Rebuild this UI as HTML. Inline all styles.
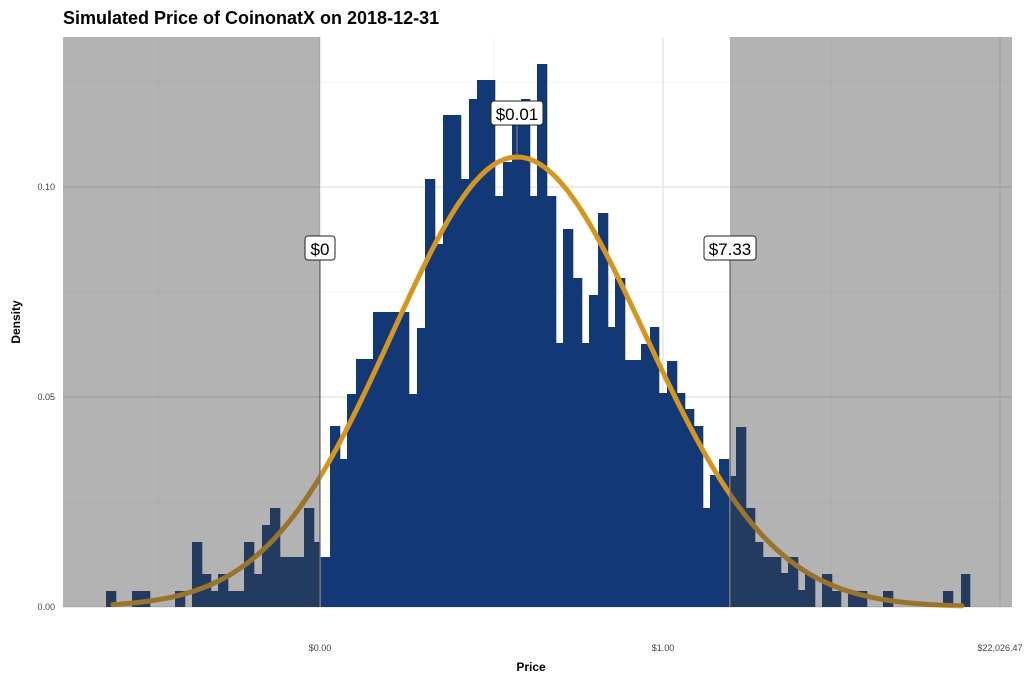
<!DOCTYPE html>
<html><head><meta charset="utf-8"><style>
body{margin:0;background:#fff;font-family:"Liberation Sans",sans-serif}
</style></head><body>
<svg id="s" width="1024" height="683" xmlns="http://www.w3.org/2000/svg" font-family="Liberation Sans, sans-serif">
<rect width="1024" height="683" fill="#fff"/>
<g stroke="#ebebeb" stroke-width="0.6">
<line x1="63" x2="1012" y1="82" y2="82"/><line x1="63" x2="1012" y1="292" y2="292"/><line x1="63" x2="1012" y1="502" y2="502"/>
<line x1="158" x2="158" y1="37" y2="607"/><line x1="494" x2="494" y1="37" y2="607"/><line x1="831" x2="831" y1="37" y2="607"/>
</g>
<g stroke="#e0e0e0" stroke-width="1.2">
<line x1="63" x2="1012" y1="187" y2="187"/><line x1="63" x2="1012" y1="397" y2="397"/><line x1="63" x2="1012" y1="607" y2="607"/>
<line x1="320" x2="320" y1="37" y2="607"/><line x1="663" x2="663" y1="37" y2="607"/><line x1="1000" x2="1000" y1="37" y2="607"/>
</g>
<g id="bars" fill="#123876"></g>
<path id="curve" fill="none" stroke="#d4961e" stroke-width="5" stroke-linecap="round"/>
<line x1="320" x2="320" y1="260" y2="607" stroke="#888" stroke-width="1.5"/>
<line x1="730" x2="730" y1="260" y2="607" stroke="#888" stroke-width="1.5"/>
<line x1="517" x2="517" y1="122" y2="157" stroke="#888" stroke-width="1"/>
<rect x="63" y="37" width="257" height="570" fill="rgb(65,65,65)" fill-opacity="0.4"/>
<rect x="730" y="37" width="282" height="570" fill="rgb(65,65,65)" fill-opacity="0.4"/>
<g font-size="17" text-anchor="middle">
<rect x="305" y="236" width="30" height="24" rx="3" fill="#fff" stroke="#222"/><text x="320" y="255">$0</text>
<rect x="704" y="236" width="52" height="24" rx="3" fill="#fff" stroke="#222"/><text x="730" y="255">$7.33</text>
<rect x="491" y="101" width="52" height="24" rx="3" fill="#fff" stroke="#222"/><text x="517" y="120">$0.01</text>
</g>
<text x="63" y="24" font-size="18" font-weight="bold">Simulated Price of CoinonatX on 2018-12-31</text>
<g font-size="9" fill="#444" text-anchor="end">
<text x="55" y="190">0.10</text><text x="55" y="400">0.05</text><text x="55" y="610">0.00</text>
</g>
<g font-size="9" fill="#444" text-anchor="middle">
<text x="320" y="651">$0.00</text><text x="663" y="651">$1.00</text><text x="1000" y="651">$22,026.47</text>
</g>
<text x="531" y="671" font-size="12" font-weight="bold" text-anchor="middle">Price</text>
<text transform="translate(20,322) rotate(-90)" font-size="12" font-weight="bold" text-anchor="middle">Density</text>
</svg>
<script>
var b=[[106,116,591],[132,150,591],[175,185,591],[192,202,542],[202,211,574],[211,218,591],[218,228,574],[228,244,591],[244,254,542],[254,262,574],[262,270,525],[270,280,508],[280,304,557],[304,314,508],[314,320,542],[320,323,557],[323,330,557],[330,340,426],[340,347,459],[347,356,394],[356,373,359],[373,409,312],[409,417,394],[417,425,328],[425,435,179],[435,443,244],[443,461,115],[461,469,179],[469,477,99],[477,495,80],[495,503,196],[503,512,162],[512,521,125],[521,530,99],[530,537,196],[537,547,64],[547,556,196],[556,563,343],[563,573,229],[573,582,278],[582,589,343],[589,598,295],[598,608,213],[608,615,327],[615,625,278],[625,641,360],[641,650,344],[650,659,327],[659,667,393],[667,677,361],[677,685,393],[685,694,409],[694,703,426],[703,710,508],[710,719,475],[719,729,459],[729,736,476],[736,746,427],[746,755,508],[755,763,542],[763,781,557],[781,788,573],[788,798,557],[798,805,590],[805,815,574],[822,832,574],[832,841,591],[848,867,591],[883,893,591],[943,953,591],[961,970,574]];
var g=document.getElementById('bars'),h='';
b.forEach(function(r){h+='<rect x="'+r[0]+'" y="'+r[2]+'" width="'+(r[1]-r[0]+0.3)+'" height="'+(607-r[2])+'"/>';});
g.innerHTML=h;
var d='';
for(var x=113;x<=963;x+=3){var s=x<517?125:128;var y=607-450*Math.exp(-Math.pow(x-517,2)/(2*s*s));d+=(x==113?'M':'L')+x+','+y.toFixed(1);}
document.getElementById('curve').setAttribute('d',d);
</script>
</body></html>
